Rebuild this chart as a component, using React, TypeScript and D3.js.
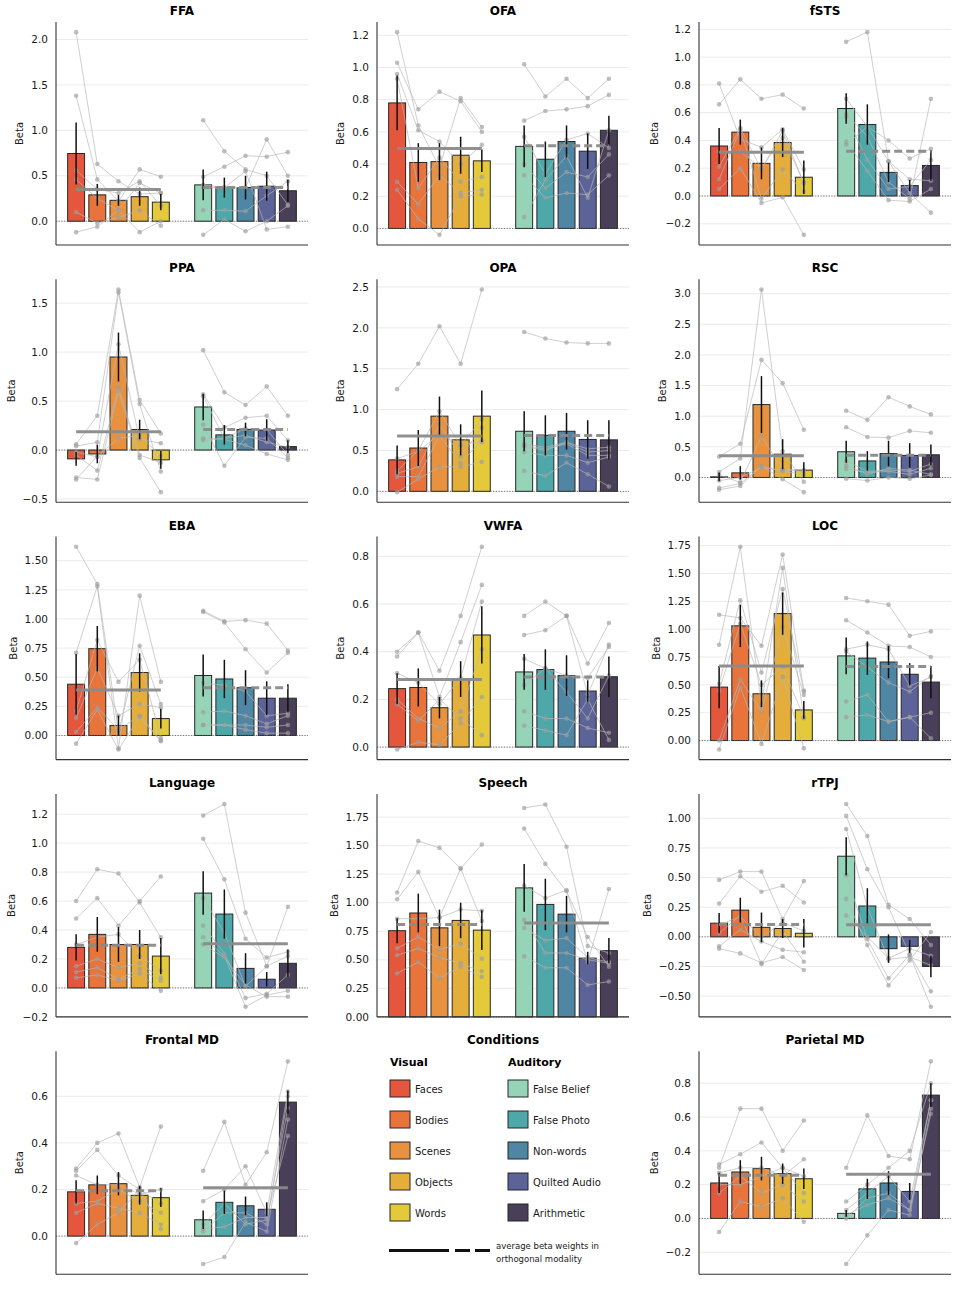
import React from 'react';
import * as d3 from 'd3';

// condition names and colours
const visualConditions = ['Faces', 'Bodies', 'Scenes', 'Objects', 'Words'];
const auditoryConditions = ['False Belief', 'False Photo', 'Non-words', 'Quilted Audio', 'Arithmetic'];
const visualColors = ['#e4573c', '#e8743b', '#e8923f', '#e5ad3a', '#e4ca3b'];
const auditoryColors = ['#95d4b7', '#4ea8a9', '#4f86a4', '#5b6398', '#4a3f58'];

// regions of interest, in reading order
const regions = [
  'FFA', 'OFA', 'fSTS', 'PPA', 'OPA', 'RSC', 'EBA', 'VWFA', 'LOC',
  'Language', 'Speech', 'rTPJ', 'Frontal MD', 'Parietal MD',
];

// which modality's average is drawn solid (the other one dashed)
const preferredModality = [
  'visual', 'visual', 'visual', 'visual', 'visual', 'visual', 'visual', 'visual', 'visual',
  'auditory', 'auditory', 'auditory', 'auditory', 'auditory',
];

// group mean beta, 5 visual then 5 auditory conditions
const meanBeta = [
  [0.745, 0.29, 0.23, 0.27, 0.21, 0.40, 0.37, 0.37, 0.385, 0.335],
  [0.78, 0.41, 0.415, 0.455, 0.42, 0.51, 0.43, 0.54, 0.48, 0.61],
  [0.36, 0.46, 0.235, 0.385, 0.135, 0.63, 0.515, 0.17, 0.075, 0.22],
  [-0.09, -0.04, 0.95, 0.21, -0.10, 0.44, 0.155, 0.21, 0.205, 0.035],
  [0.385, 0.53, 0.92, 0.63, 0.92, 0.735, 0.685, 0.735, 0.635, 0.63],
  [0.01, 0.075, 1.19, 0.38, 0.12, 0.42, 0.27, 0.39, 0.36, 0.37],
  [0.44, 0.745, 0.085, 0.54, 0.145, 0.515, 0.485, 0.41, 0.32, 0.32],
  [0.245, 0.25, 0.165, 0.285, 0.47, 0.315, 0.325, 0.30, 0.235, 0.295],
  [0.48, 1.03, 0.42, 1.14, 0.275, 0.76, 0.74, 0.705, 0.595, 0.525],
  [0.28, 0.37, 0.30, 0.30, 0.22, 0.655, 0.51, 0.135, 0.06, 0.17],
  [0.755, 0.91, 0.78, 0.845, 0.76, 1.13, 0.985, 0.90, 0.515, 0.58],
  [0.115, 0.225, 0.08, 0.07, 0.03, 0.68, 0.26, -0.10, -0.08, -0.25],
  [0.19, 0.22, 0.225, 0.175, 0.165, 0.07, 0.145, 0.13, 0.115, 0.575],
  [0.21, 0.275, 0.295, 0.265, 0.235, 0.03, 0.175, 0.21, 0.16, 0.73],
];

// standard error of the mean
const errBeta = [
  [0.34, 0.12, 0.06, 0.10, 0.09, 0.17, 0.11, 0.13, 0.16, 0.12],
  [0.17, 0.12, 0.115, 0.115, 0.07, 0.13, 0.11, 0.10, 0.11, 0.09],
  [0.13, 0.09, 0.115, 0.105, 0.12, 0.11, 0.145, 0.07, 0.04, 0.11],
  [0.07, 0.095, 0.25, 0.10, 0.09, 0.135, 0.10, 0.07, 0.11, 0.065],
  [0.175, 0.22, 0.24, 0.19, 0.315, 0.245, 0.245, 0.225, 0.235, 0.24],
  [0.07, 0.11, 0.465, 0.245, 0.13, 0.18, 0.16, 0.21, 0.20, 0.17],
  [0.26, 0.195, 0.085, 0.165, 0.085, 0.18, 0.165, 0.15, 0.145, 0.12],
  [0.065, 0.08, 0.045, 0.075, 0.12, 0.075, 0.085, 0.085, 0.045, 0.085],
  [0.19, 0.19, 0.12, 0.19, 0.08, 0.165, 0.15, 0.145, 0.10, 0.145],
  [0.09, 0.12, 0.12, 0.10, 0.125, 0.15, 0.17, 0.105, 0.05, 0.095],
  [0.11, 0.17, 0.16, 0.155, 0.175, 0.21, 0.225, 0.16, 0.055, 0.11],
  [0.085, 0.105, 0.125, 0.08, 0.12, 0.16, 0.15, 0.12, 0.055, 0.09],
  [0.05, 0.04, 0.05, 0.04, 0.04, 0.04, 0.05, 0.04, 0.03, 0.05],
  [0.06, 0.07, 0.07, 0.06, 0.06, 0.02, 0.06, 0.07, 0.05, 0.07],
];

// single-subject betas (6 subjects per region)
const subjectBeta = [
  [ // FFA
    [2.08, 0.63, 0.44, 0.30, 0.31, 1.11, 0.77, 0.57, 0.50, 0.18],
    [1.38, 0.46, 0.22, 0.57, 0.49, 0.49, 0.60, 0.72, 0.71, 0.76],
    [0.56, 0.35, 0.31, 0.44, 0.17, 0.37, 0.37, 0.37, 0.90, 0.50],
    [0.46, 0.25, 0.12, 0.42, 0.31, 0.12, 0.12, 0.11, 0.28, 0.44],
    [0.10, -0.02, 0.04, 0.12, -0.05, -0.15, 0.02, -0.11, 0.00, 0.17],
    [-0.12, -0.06, 0.12, -0.12, 0.00, 0.40, 0.37, 0.55, -0.09, -0.06],
  ],
  [ // OFA
    [1.22, 0.64, 0.38, 0.81, 0.63, 1.02, 0.82, 0.93, 0.81, 0.93],
    [1.03, 0.74, 0.85, 0.79, 0.60, 0.67, 0.73, 0.74, 0.76, 0.83],
    [0.96, 0.61, 0.54, 0.40, 0.52, 0.57, 0.34, 0.55, 0.59, 0.50],
    [0.93, 0.25, 0.44, 0.29, 0.32, 0.40, 0.25, 0.35, 0.32, 0.46],
    [0.29, 0.15, 0.33, 0.22, 0.24, 0.33, 0.19, 0.22, 0.21, 0.33],
    [0.24, 0.06, -0.04, 0.20, 0.21, 0.07, 0.30, 0.45, 0.19, 0.61],
  ],
  [ // fSTS
    [0.66, 0.84, 0.70, 0.73, 0.63, 1.11, 1.18, 0.25, 0.12, 0.11],
    [0.81, 0.41, 0.35, 0.48, 0.19, 0.70, 0.50, 0.40, 0.27, 0.34],
    [0.21, 0.49, 0.19, 0.47, 0.09, 0.59, 0.43, 0.10, -0.02, 0.70],
    [0.12, 0.48, -0.02, 0.19, 0.03, 0.57, 0.26, 0.05, 0.07, 0.26],
    [0.05, 0.20, -0.05, -0.01, -0.28, 0.39, 0.18, -0.03, -0.04, 0.05],
    [0.32, 0.32, 0.20, 0.42, 0.10, 0.37, 0.50, 0.25, 0.02, -0.12],
  ],
  [ // PPA
    [0.06, 0.35, 1.64, 0.51, 0.17, 1.02, 0.59, 0.46, 0.65, 0.35],
    [0.04, 0.08, 1.61, 0.47, -0.22, 0.57, 0.23, 0.33, 0.35, 0.10],
    [-0.02, -0.07, 1.08, 0.11, 0.07, 0.55, 0.12, 0.22, 0.21, -0.05],
    [-0.05, -0.21, 0.64, -0.05, -0.13, 0.26, -0.16, 0.13, 0.12, -0.08],
    [-0.28, -0.30, 0.60, -0.08, -0.43, 0.12, 0.11, 0.05, -0.04, -0.10],
    [-0.30, -0.06, 0.12, 0.15, -0.06, 0.10, 0.12, 0.15, 0.08, 0.03],
  ],
  [ // OPA
    [1.25, 1.56, 2.02, 1.56, 2.47, 1.95, 1.87, 1.82, 1.81, 1.81],
    [0.25, 0.50, 0.98, 0.56, 0.88, 0.58, 0.54, 0.60, 0.52, 0.54],
    [0.22, 0.30, 0.82, 0.43, 0.78, 0.56, 0.52, 0.58, 0.44, 0.44],
    [0.18, 0.18, 0.68, 0.35, 0.62, 0.48, 0.44, 0.44, 0.35, 0.42],
    [-0.01, 0.15, 0.30, 0.30, 0.36, 0.25, 0.19, 0.35, 0.21, 0.06],
    [0.40, 0.49, 0.70, 0.58, 0.60, 0.55, 0.50, 0.60, 0.48, 0.50],
  ],
  [ // RSC
    [0.09, 0.31, 3.07, 0.43, -0.07, 1.09, 0.94, 1.31, 1.16, 1.03],
    [0.34, 0.55, 1.92, 1.54, 0.78, 0.82, 0.66, 0.65, 0.76, 0.73],
    [0.04, -0.08, 0.67, 0.13, 0.12, 0.27, 0.10, 0.12, 0.10, 0.22],
    [-0.20, -0.14, 0.19, -0.03, -0.24, 0.14, 0.08, 0.10, 0.05, 0.15],
    [-0.05, 0.00, 0.16, 0.12, 0.10, -0.02, -0.05, 0.00, -0.02, 0.04],
    [-0.17, -0.10, 0.18, 0.10, 0.05, 0.20, 0.05, 0.15, 0.12, 0.05],
  ],
  [ // EBA
    [1.62, 1.30, 0.03, 0.77, 0.27, 1.07, 0.98, 0.99, 0.96, 0.73],
    [0.71, 1.28, -0.11, 1.20, 0.46, 1.06, 0.97, 0.74, 0.54, 0.71],
    [0.21, 0.82, 0.46, 0.65, -0.02, 0.45, 0.43, 0.38, 0.17, 0.19],
    [0.15, 0.58, 0.17, 0.27, 0.24, 0.20, 0.21, 0.17, 0.10, 0.17],
    [0.03, 0.24, 0.05, 0.17, -0.04, 0.09, 0.09, 0.09, 0.07, 0.09],
    [-0.07, 0.22, -0.12, 0.16, -0.05, 0.09, 0.09, 0.05, 0.02, 0.02],
  ],
  [ // VWFA
    [0.40, 0.48, 0.32, 0.55, 0.84, 0.55, 0.61, 0.55, 0.35, 0.52],
    [0.38, 0.48, 0.21, 0.44, 0.68, 0.47, 0.49, 0.55, 0.22, 0.43],
    [0.31, 0.27, 0.18, 0.29, 0.61, 0.37, 0.33, 0.30, 0.29, 0.42],
    [0.20, 0.12, 0.08, 0.15, 0.41, 0.26, 0.33, 0.23, 0.12, 0.30],
    [-0.01, 0.02, 0.01, 0.10, 0.21, 0.15, 0.12, 0.12, 0.08, 0.06],
    [0.18, 0.11, 0.20, 0.12, 0.05, 0.09, 0.07, 0.05, 0.20, 0.03],
  ],
  [ // LOC
    [1.13, 1.10, 0.85, 1.67, 0.45, 1.28, 1.25, 1.22, 0.94, 0.98],
    [0.86, 1.74, 0.32, 1.55, 0.20, 1.08, 0.97, 0.85, 0.84, 0.75],
    [0.51, 1.26, 0.61, 1.36, 0.44, 0.82, 0.86, 0.82, 0.49, 0.57],
    [0.00, 0.55, 0.26, 1.02, 0.41, 0.80, 0.66, 0.52, 0.44, 0.58],
    [-0.08, 0.48, -0.03, 0.57, -0.07, 0.35, 0.41, 0.17, 0.21, 0.25],
    [0.45, 1.05, 0.50, 0.66, 0.21, 0.21, 0.23, 0.17, 0.21, 0.02],
  ],
  [ // Language
    [0.60, 0.82, 0.79, 0.59, 0.35, 1.19, 1.27, 0.52, 0.15, 0.56],
    [0.48, 0.62, 0.43, 0.60, 0.77, 1.03, 0.75, 0.34, 0.21, 0.25],
    [0.30, 0.35, 0.37, 0.22, 0.12, 0.62, 0.38, 0.01, 0.15, 0.22],
    [0.15, 0.20, 0.14, 0.17, 0.07, 0.43, 0.24, -0.07, -0.04, 0.09],
    [0.11, 0.14, 0.06, 0.13, 0.05, 0.35, 0.22, -0.13, -0.05, -0.02],
    [0.07, 0.09, 0.05, 0.10, -0.02, 0.30, 0.21, 0.02, -0.06, -0.06],
  ],
  [ // Speech
    [1.09, 1.54, 1.48, 1.30, 0.84, 1.83, 1.86, 1.49, 0.62, 0.56],
    [1.03, 1.27, 0.87, 1.30, 1.51, 1.65, 1.34, 1.10, 0.70, 0.44],
    [0.86, 0.86, 0.87, 0.94, 0.93, 1.15, 1.04, 1.11, 0.48, 1.12],
    [0.60, 0.70, 0.59, 0.64, 0.51, 0.78, 0.67, 0.69, 0.52, 0.48],
    [0.54, 0.60, 0.52, 0.47, 0.40, 0.53, 0.43, 0.43, 0.28, 0.31],
    [0.38, 0.48, 0.34, 0.44, 0.35, 0.85, 0.56, 0.56, 0.50, 0.47],
  ],
  [ // rTPJ
    [0.48, 0.55, 0.55, 0.15, 0.47, 1.12, 0.85, 0.27, 0.15, -0.07],
    [0.28, 0.51, 0.38, 0.43, 0.29, 1.02, 0.57, 0.25, -0.15, -0.46],
    [0.10, 0.17, 0.00, 0.12, 0.05, 0.91, 0.25, -0.19, -0.17, -0.24],
    [-0.08, 0.06, -0.04, -0.11, -0.13, 0.52, -0.02, -0.35, -0.15, -0.59],
    [-0.10, -0.14, -0.22, -0.17, -0.28, 0.32, -0.07, -0.41, -0.20, 0.04],
    [0.03, 0.18, -0.23, 0.05, -0.21, 0.18, 0.00, -0.18, -0.10, -0.16],
  ],
  [ // Frontal MD
    [0.29, 0.40, 0.44, 0.21, 0.47, 0.28, 0.49, 0.22, 0.36, 0.75],
    [0.28, 0.37, 0.26, 0.20, 0.14, 0.15, 0.20, 0.30, 0.10, 0.62],
    [0.26, 0.22, 0.22, 0.18, 0.20, 0.05, 0.14, 0.05, 0.07, 0.55],
    [0.14, 0.15, 0.20, 0.15, 0.10, 0.02, 0.10, 0.10, 0.05, 0.60],
    [0.10, 0.14, 0.12, 0.10, 0.05, -0.12, -0.09, 0.06, 0.02, 0.50],
    [-0.03, 0.05, 0.10, 0.20, 0.03, 0.03, 0.04, 0.08, 0.08, 0.43],
  ],
  [ // Parietal MD
    [0.30, 0.65, 0.65, 0.40, 0.58, 0.30, 0.61, 0.37, 0.35, 0.93],
    [0.32, 0.38, 0.45, 0.30, 0.25, 0.10, 0.20, 0.30, 0.40, 0.80],
    [0.27, 0.30, 0.30, 0.25, 0.35, 0.05, 0.15, 0.25, 0.10, 0.70],
    [0.20, 0.20, 0.25, 0.30, 0.15, 0.00, 0.12, 0.15, 0.05, 0.62],
    [0.15, 0.25, 0.15, 0.20, 0.10, -0.27, -0.10, 0.05, 0.02, 0.65],
    [-0.08, 0.10, 0.07, 0.12, -0.02, 0.02, 0.08, 0.12, 0.05, 0.70],
  ],
];

// y tick values per region
const yTicks = [
  [0, 0.5, 1.0, 1.5, 2.0],
  [0, 0.2, 0.4, 0.6, 0.8, 1.0, 1.2],
  [-0.2, 0, 0.2, 0.4, 0.6, 0.8, 1.0, 1.2],
  [-0.5, 0, 0.5, 1.0, 1.5],
  [0, 0.5, 1.0, 1.5, 2.0, 2.5],
  [0, 0.5, 1.0, 1.5, 2.0, 2.5, 3.0],
  [0, 0.25, 0.5, 0.75, 1.0, 1.25, 1.5],
  [0, 0.2, 0.4, 0.6, 0.8],
  [0, 0.25, 0.5, 0.75, 1.0, 1.25, 1.5, 1.75],
  [-0.2, 0, 0.2, 0.4, 0.6, 0.8, 1.0, 1.2],
  [0, 0.25, 0.5, 0.75, 1.0, 1.25, 1.5, 1.75],
  [-0.5, -0.25, 0, 0.25, 0.5, 0.75, 1.0],
  [0, 0.2, 0.4, 0.6],
  [-0.2, 0, 0.2, 0.4, 0.6, 0.8],
];

const FONT = "'DejaVu Sans', sans-serif";
const WIDTH = 958;
const HEIGHT = 1305;
const PANEL_W = 252;
const PANEL_H = 223;
const COL_X = [56, 377, 699];
const rowTop = (r: number) => 22 + r * 257.3;
// grid slot of each region; slot 13 holds the legend
const SLOTS = [0, 1, 2, 3, 4, 5, 6, 7, 8, 9, 10, 11, 12, 14];
const POSITIONS = [0, 1, 2, 3, 4, 6, 7, 8, 9, 10];
const BAR_W = 0.8;
const TICK_SIZE = 10.5;
const allColors = [...visualColors, ...auditoryColors];

// rough DejaVu Sans advance widths, for placing the y label left of tick labels
const textWidth = (s: string, size: number) =>
  s.split('').reduce((w, c) => w + (c === '.' ? 0.318 : c === '−' ? 0.838 : 0.636) * size, 0);

// number of decimals needed so every tick prints exactly
const tickDecimals = (ticks: number[]) =>
  Math.max(1, ...ticks.map(t => (String(t).split('.')[1] || '').length));

const fmtTick = (v: number, dec: number) => d3.format(`.${dec}f`)(v).replace('-', '−');

const Panel: React.FC<{ idx: number }> = ({ idx }) => {
  const slot = SLOTS[idx];
  const x0 = COL_X[slot % 3];
  const y0 = rowTop(Math.floor(slot / 3));
  const means = meanBeta[idx];
  const errs = errBeta[idx];
  const subs = subjectBeta[idx];
  const ticks = yTicks[idx];

  // autoscale like matplotlib: 5% margins, bars stick to zero
  const vals = [...subs.flat(), ...means.map((m, i) => m + errs[i]), ...means.map((m, i) => m - errs[i]), 0];
  const dMin = d3.min(vals) as number;
  const dMax = d3.max(vals) as number;
  const pad = (dMax - dMin) * 0.05;
  const lo = dMin < 0 ? dMin - pad : 0;
  const hi = dMax + pad;

  const x = d3.scaleLinear().domain([-0.95, 10.95]).range([x0, x0 + PANEL_W]);
  const y = d3.scaleLinear().domain([lo, hi]).range([y0 + PANEL_H, y0]);

  const dec = tickDecimals(ticks);
  const tickLabels = ticks.map(t => fmtTick(t, dec));
  const maxTickW = d3.max(tickLabels, s => textWidth(s, TICK_SIZE)) as number;

  const visMean = d3.mean(means.slice(0, 5)) as number;
  const audMean = d3.mean(means.slice(5)) as number;
  const solidVisual = preferredModality[idx] === 'visual';

  const line = d3.line<number>().x((_, i) => x(POSITIONS[i])).y(v => y(v));
  const lineAud = d3.line<number>().x((_, i) => x(POSITIONS[i + 5])).y(v => y(v));

  return (
    <g>
      <text x={x0 + PANEL_W / 2} y={y0 - 7} textAnchor="middle" fontFamily={FONT}
        fontWeight="bold" fontSize={12}>{regions[idx]}</text>

      {ticks.map(t => (
        <line key={`g${t}`} x1={x0} x2={x0 + PANEL_W} y1={y(t)} y2={y(t)} stroke="#ebebeb" strokeWidth={1} />
      ))}
      {ticks.map((t, i) => (
        <text key={`t${t}`} x={x0 - 8} y={y(t)} dy="0.35em" textAnchor="end"
          fontFamily={FONT} fontSize={TICK_SIZE} fill="#1a1a1a">{tickLabels[i]}</text>
      ))}
      <text transform={`translate(${x0 - 8 - maxTickW - 8},${y0 + PANEL_H / 2}) rotate(-90)`}
        textAnchor="middle" fontFamily={FONT} fontSize={10} fill="#1a1a1a">Beta</text>

      {means.map((m, i) => (
        <rect key={`b${i}`} x={x(POSITIONS[i] - BAR_W / 2)} width={x(BAR_W) - x(0)}
          y={y(Math.max(m, 0))} height={Math.abs(y(m) - y(0))}
          fill={allColors[i]} stroke="#262626" strokeWidth={1} />
      ))}

      <line x1={x0} x2={x0 + PANEL_W} y1={y(0)} y2={y(0)} stroke="#555" strokeWidth={0.8}
        strokeDasharray="1.2,1.5" />

      {subs.map((s, k) => (
        <g key={`s${k}`}>
          <path d={line(s.slice(0, 5)) as string} fill="none" stroke="#b8b8b8" strokeOpacity={0.75} strokeWidth={0.9} />
          <path d={lineAud(s.slice(5)) as string} fill="none" stroke="#b8b8b8" strokeOpacity={0.75} strokeWidth={0.9} />
          {s.map((v, i) => (
            <circle key={i} cx={x(POSITIONS[i])} cy={y(v)} r={2.3} fill="#9c9c9c" fillOpacity={0.65} />
          ))}
        </g>
      ))}

      {means.map((m, i) => (
        <line key={`e${i}`} x1={x(POSITIONS[i])} x2={x(POSITIONS[i])} y1={y(m - errs[i])} y2={y(m + errs[i])}
          stroke="#111" strokeWidth={1.5} />
      ))}

      <line x1={x(0)} x2={x(4)} y1={y(visMean)} y2={y(visMean)} stroke="#8a8a8a" strokeOpacity={0.95}
        strokeWidth={3} strokeDasharray={solidVisual ? undefined : '8,4'} />
      <line x1={x(6)} x2={x(10)} y1={y(audMean)} y2={y(audMean)} stroke="#8a8a8a" strokeOpacity={0.95}
        strokeWidth={3} strokeDasharray={solidVisual ? '8,4' : undefined} />

      <line x1={x0} x2={x0} y1={y0} y2={y0 + PANEL_H} stroke="#333" strokeWidth={1.1} />
      <line x1={x0} x2={x0 + PANEL_W} y1={y0 + PANEL_H} y2={y0 + PANEL_H} stroke="#333" strokeWidth={1.1} />
    </g>
  );
};

const Legend: React.FC = () => {
  const top = 1080;
  const step = 31;
  const columns = [
    { title: 'Visual', x: 390, names: visualConditions, colors: visualColors },
    { title: 'Auditory', x: 508, names: auditoryConditions, colors: auditoryColors },
  ];
  return (
    <g fontFamily={FONT}>
      <text x={503} y={1044} textAnchor="middle" fontWeight="bold" fontSize={12}>Conditions</text>
      {columns.map(col => (
        <g key={col.title}>
          <text x={col.x} y={1066} fontWeight="bold" fontSize={11}>{col.title}</text>
          {col.names.map((n, i) => (
            <g key={n}>
              <rect x={col.x} y={top + i * step} width={20} height={17} fill={col.colors[i]}
                stroke="#262626" strokeWidth={1} />
              <text x={col.x + 25} y={top + i * step + 12.5} fontSize={10} fill="#1a1a1a">{n}</text>
            </g>
          ))}
        </g>
      ))}
      <line x1={389} x2={449} y1={1250.5} y2={1250.5} stroke="#111" strokeWidth={3} />
      <line x1={455} x2={490} y1={1250.5} y2={1250.5} stroke="#111" strokeWidth={3} strokeDasharray="15,5" />
      <text x={496} y={1249} fontSize={8.5} fill="#1a1a1a">average beta weights in</text>
      <text x={496} y={1262} fontSize={8.5} fill="#1a1a1a">orthogonal modality</text>
    </g>
  );
};

const App: React.FC = () => (
  <svg width={WIDTH} height={HEIGHT} style={{ display: 'block', position: 'absolute', left: 0, top: 0 }}
    xmlns="http://www.w3.org/2000/svg">
    <rect width={WIDTH} height={HEIGHT} fill="#fff" />
    {regions.map((_, i) => <Panel key={regions[i]} idx={i} />)}
    <Legend />
  </svg>
);

export default App;
